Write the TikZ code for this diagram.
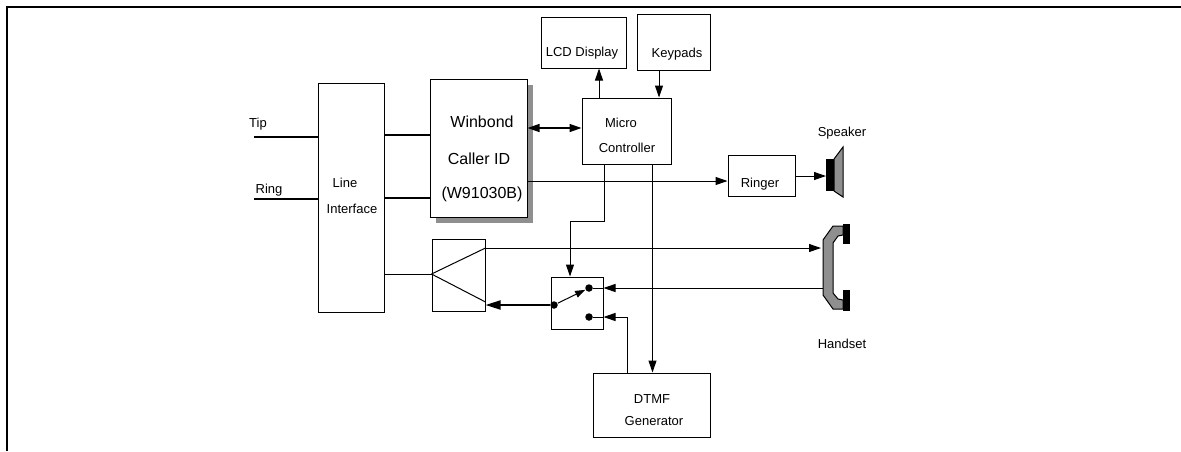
\documentclass[tikz,border=0pt]{standalone}
\usepackage{fontspec}
\setmainfont{Liberation Sans}
\usetikzlibrary{arrows.meta,shadows}
\definecolor{shade}{gray}{0.56}

\begin{document}
\begin{tikzpicture}[x=1pt,y=-1pt,line width=1pt,
  box/.style={draw,rectangle,inner sep=0pt},
  lbl/.style={font=\fontsize{13}{13}\selectfont,inner sep=0pt,text height=9.3pt,text depth=0pt},
  big/.style={font=\fontsize{16}{16}\selectfont,inner sep=0pt,text height=11.5pt,text depth=0pt},
  arr/.style={-{Triangle[length=12pt,width=8pt]}},
  darr/.style={{Triangle[length=12pt,width=8pt]}-{Triangle[length=12pt,width=8pt]}},
  dot/.style={circle,fill,inner sep=0pt,minimum size=7.5pt}]
\useasboundingbox (0,0) rectangle (1181,451);
\draw[line width=2pt] (6.5,451) -- (6.5,6.5) -- (1181,6.5);

\node[box,minimum width=66pt,minimum height=229pt] (1) at (351,197.5) {};
\node[box,fill=white,minimum width=97pt,minimum height=138pt,drop shadow={shadow xshift=6pt,shadow yshift=-6pt,fill=shade,opacity=1}] (2) at (478.5,148) {};
\node[box,minimum width=53pt,minimum height=72pt] (3) at (458.5,275) {};
\node[box,minimum width=85pt,minimum height=51pt] (4) at (583.5,42.5) {};
\node[box,minimum width=73pt,minimum height=56pt] (5) at (673.5,42) {};
\node[box,minimum width=89pt,minimum height=66pt] (6) at (626.5,131) {};
\node[box,minimum width=67pt,minimum height=41pt] (7) at (761.5,175.5) {};
\node[box,minimum width=52pt,minimum height=52pt] (8) at (577,303) {};
\node[box,minimum width=117pt,minimum height=64pt] (9) at (651.5,405) {};

\node[dot] (p) at (554,305) {};
\node[dot] (c1) at (589,288) {};
\node[dot] (c2) at (589,317) {};

\coordinate (tip) at (254,137);
\coordinate (ring) at (254,199);
\coordinate (spk) at (826,176);
\coordinate (hs1) at (821,248);
\coordinate (hs2) at (823,288);

\node[lbl] (t1) at (258,123) {Tip};
\node[lbl] (t2) at (269,189) {Ring};
\node[lbl] (t3) at (345,183) {Line};
\node[lbl] (t4) at (352,209) {Interface};
\node[big] (t5) at (482,122) {Winbond};
\node[big] (t6) at (479,159) {Caller ID};
\node[big] (t7) at (482,193) {(W91030B)};
\node[lbl] (t8) at (582,52) {LCD Display};
\node[lbl] (t9) at (677,53) {Keypads};
\node[lbl] (t10) at (621,123) {Micro};
\node[lbl] (t11) at (627,148) {Controller};
\node[lbl] (t12) at (760,183) {Ringer};
\node[lbl] (t13) at (842,132) {Speaker};
\node[lbl] (t14) at (842,344) {Handset};
\node[lbl] (t15) at (652,399) {DTMF};
\node[lbl] (t16) at (654,421) {Generator};

% line interface side
\draw[line width=1.6pt] (tip) -- (1.west |- tip);
\draw[line width=1.6pt] (ring) -- (1.west |- ring);
\draw[line width=1.6pt] (1.east |- 0,135) -- (2.west |- 0,135);
\draw[line width=1.6pt] (1.east |- 0,198) -- (2.west |- 0,198);
\draw (1.east |- 0,274) -- (3.west |- 0,274);
\draw (3.west |- 0,274) -- (3.east |- 0,248);
\draw (3.west |- 0,274) -- (3.east |- 0,302);

% controller
\draw[darr,line width=1.4pt] (2.east |- 0,128) -- (6.west |- 0,128);
\draw[arr] (6.north -| 599,0) -- (4.south -| 599,0);
\draw[arr] (5.south -| 659,0) -- (6.north -| 659,0);
\draw[arr] (2.east |- 0,181) -- (7.west |- 0,181);
\draw[arr] (7.east |- spk) -- (spk);
\draw[arr] (6.south -| 604,0) -- ++(0,57) -| (8.north -| 570,0);
\draw[arr] (6.south -| 652.5,0) -- (9.north -| 652.5,0);

% handset and switch
\draw[arr] (3.east |- hs1) -- (hs1);
\draw[arr] (hs2) -- (8.east |- hs2);
\draw (8.east |- hs2) -- (c1);
\draw[arr] (9.north -| 627,0) |- (8.east |- c2);
\draw (8.east |- c2) -- (c2);
\draw[line width=1.8pt,-{Triangle[length=15pt,width=9pt]}] (p) -- (3.east |- p);
\draw[-{Triangle[length=10pt,width=7pt]}] (p) -- (c1);

% speaker
\fill (826,159) rectangle (834,191);
\draw[fill=shade] (834,159) -- (843,147) -- (843,197) -- (834,191) -- cycle;

% handset
\draw[fill=shade] (843,226) -- (833,226) -- (823,240) -- (823,295) -- (833,309) -- (843,309) -- (843,300) -- (838,299) -- (833,293) -- (833,243) -- (838,236) -- (843,235) -- cycle;
\fill (843,224) rectangle (850,244);
\fill (843,290) rectangle (850,311);
\end{tikzpicture}
\end{document}
